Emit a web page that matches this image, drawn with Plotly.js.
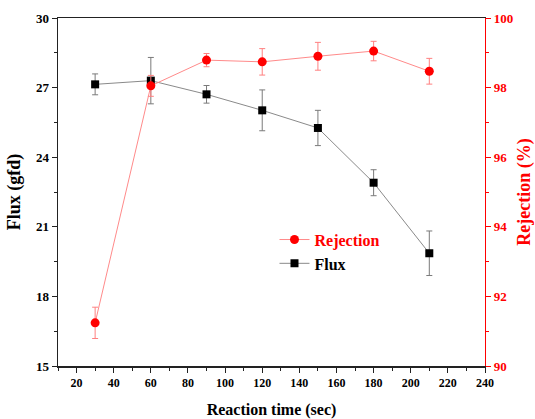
<!DOCTYPE html>
<html><head><meta charset="utf-8">
<script src="https://cdn.plot.ly/plotly-3.0.1.min.js"></script>
<style>html,body{margin:0;padding:0;background:#fff}#plot{width:535px;height:419px}</style>
</head><body><div id="plot"></div>
<script>
const time = [30, 60, 90, 120, 150, 180, 210];
const flux = [27.14, 27.3, 26.71, 26.02, 25.26, 22.9, 19.86];
const fluxErr = [0.45, 1.0, 0.38, 0.88, 0.76, 0.56, 0.96];
const rejection = [91.24, 98.05, 98.79, 98.74, 98.9, 99.05, 98.47];
const rejectionErr = [0.45, 0.3, 0.19, 0.38, 0.4, 0.28, 0.37];

const serif = '"Liberation Serif", "Times New Roman", Times, serif';

const traces = [
  {x: time, y: flux, name: '<b>Flux</b>', type: 'scatter', mode: 'lines+markers',
   line: {color: '#8a8a8a', width: 1},
   marker: {symbol: 'square', size: 8, color: '#000'},
   error_y: {type: 'data', array: fluxErr, visible: true, color: '#7a7a7a', thickness: 1, width: 3},
   yaxis: 'y'},
  {x: time, y: rejection, name: '<b>Rejection</b>', type: 'scatter', mode: 'lines+markers',
   line: {color: '#ff8a8a', width: 1},
   marker: {symbol: 'circle', size: 9, color: '#ff0000'},
   error_y: {type: 'data', array: rejectionErr, visible: true, color: '#ff8080', thickness: 1, width: 3},
   yaxis: 'y2'}
];

const layout = {
  width: 535, height: 419,
  margin: {l: 58, r: 50, t: 18, b: 53},
  paper_bgcolor: '#fff', plot_bgcolor: '#fff',
  font: {family: serif},
  showlegend: true,
  legend: {x: 0.507, y: 0.412, xanchor: 'left', yanchor: 'top', traceorder: 'reversed',
    bgcolor: 'rgba(0,0,0,0)', font: {family: serif, size: 16, color: '#000', weight: 'bold'}},
  xaxis: {range: [10, 240], dtick: 20, tick0: 0, showgrid: false, zeroline: false,
    showline: true, linecolor: '#222', linewidth: 1.5, mirror: true,
    ticks: 'outside', ticklen: 5, tickwidth: 1, tickcolor: '#222',
    minor: {dtick: 10, ticks: 'outside', ticklen: 3, tickcolor: '#222', showgrid: false},
    tickfont: {family: serif, size: 12, color: '#000', weight: 'bold'},
    title: {text: '<b>Reaction time (sec)</b>', font: {family: serif, size: 16, color: '#000'}, standoff: 15}},
  yaxis: {range: [15, 30], dtick: 3, tick0: 0, showgrid: false, zeroline: false,
    showline: true, linecolor: '#222', linewidth: 1.5,
    ticks: 'outside', ticklen: 5, tickwidth: 1, tickcolor: '#222',
    minor: {dtick: 1.5, ticks: 'outside', ticklen: 3, tickcolor: '#222', showgrid: false},
    tickfont: {family: serif, size: 13, color: '#000', weight: 'bold'},
    title: {text: '<b>Flux (gfd)</b>', font: {family: serif, size: 18, color: '#000'}, standoff: 10}},
  yaxis2: {range: [90, 100], dtick: 2, tick0: 0, overlaying: 'y', side: 'right',
    showgrid: false, zeroline: false,
    showline: true, linecolor: '#ff0000', linewidth: 1.2,
    ticks: 'outside', ticklen: 5, tickwidth: 1, tickcolor: '#ff0000',
    minor: {dtick: 1, ticks: 'outside', ticklen: 3, tickcolor: '#ff0000', showgrid: false},
    tickfont: {family: serif, size: 13, color: '#ff0000', weight: 'bold'},
    title: {text: '<b>Rejection (%)</b>', font: {family: serif, size: 18, color: '#ff0000'}, standoff: 6}}
};

Plotly.newPlot('plot', traces, layout, {displayModeBar: false, staticPlot: true}).then(() => {
  document.querySelectorAll('.legend .traces').forEach(g => {
    const t = g.querySelector('.legendtext');
    if (t && t.textContent === 'Rejection') { t.style.fill = '#ff0000'; }
  });
});
</script></body></html>
